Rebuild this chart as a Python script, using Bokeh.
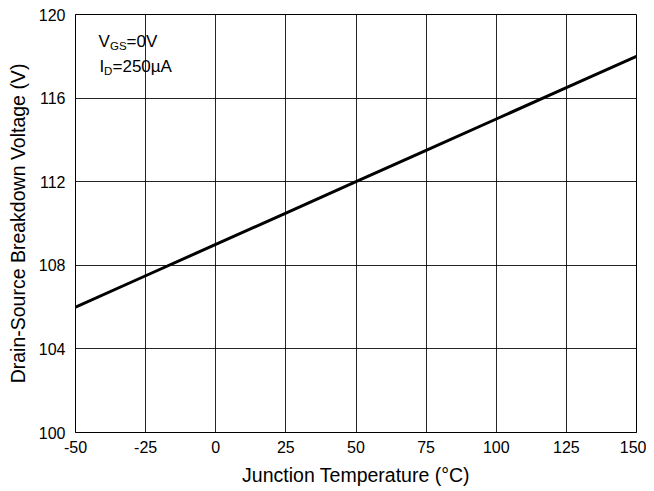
from bokeh.plotting import figure
from bokeh.models import Range1d, FixedTicker, Label
from bokeh.embed import file_html
from bokeh.resources import INLINE

# Data
temperature_c = [-50, -25, 0, 25, 50, 75, 100, 125, 150]
bvdss_v = [106.0, 107.5, 109.0, 110.5, 112.0, 113.5, 115.0, 116.5, 118.0]
x_ticks = [-50, -25, 0, 25, 50, 75, 100, 125, 150]
y_ticks = [100, 104, 108, 112, 116, 120]
x_tick_labels = ["-50", "-25", "0", "25", "50", "75", "100", "125", "150"]

FONT = "Liberation Sans"
W, H = 646, 491

p = figure(width=W, height=H, output_backend="svg", toolbar_location=None,
           x_range=Range1d(-50, 150), y_range=Range1d(100, 120),
           min_border_left=75, min_border_right=10, min_border_top=14, min_border_bottom=59)
p.background_fill_color = "white"
p.border_fill_color = "white"
p.outline_line_color = "black"
p.outline_line_width = 1
p.outline_line_alpha = 1

p.line(temperature_c, bvdss_v, line_color="black", line_width=3)

for ax in (p.xaxis[0], p.yaxis[0]):
    ax.major_tick_in = 0
    ax.major_tick_out = 0
    ax.minor_tick_in = 0
    ax.minor_tick_out = 0
    ax.axis_line_color = "black"
    ax.major_label_text_font = FONT
    ax.major_label_text_font_size = "16px"
    ax.major_label_text_color = "black"
    ax.axis_label_text_font = FONT
    ax.axis_label_text_font_size = "19.5px"
    ax.axis_label_text_font_style = "normal"
    ax.axis_label_text_color = "black"

p.xaxis.ticker = FixedTicker(ticks=x_ticks)
p.yaxis.ticker = FixedTicker(ticks=y_ticks)
p.xaxis.major_label_overrides = {t: s for t, s in zip(x_ticks, x_tick_labels)}
p.xaxis.axis_label = "Junction Temperature (°C)"
p.yaxis.axis_label = "Drain-Source Breakdown Voltage (V)"
p.xaxis.major_label_standoff = 8
p.yaxis.major_label_standoff = 10
p.xaxis.axis_label_standoff = 8
p.yaxis.axis_label_standoff = 7

p.xgrid.grid_line_color = "black"
p.ygrid.grid_line_color = "black"
p.xgrid.grid_line_alpha = 0.85
p.ygrid.grid_line_alpha = 0.85

def lab(dx, dy, t, size):
    # anchored at the top-left corner of the plot frame, offsets in pixels
    p.add_layout(Label(x=-50, y=120, x_offset=dx, y_offset=-dy, text=t,
                       text_font=FONT, text_font_size=size, text_color="black",
                       text_baseline="alphabetic", text_align="left"))

lab(23, 27, "V", "17px")
lab(34.5, 31, "GS", "11.5px")
lab(51, 27, "=0V", "17px")
lab(24, 52, "I", "17px")
lab(28.5, 56, "D", "11.5px")
lab(37, 52, "=250µA", "17px")

open("out.html", "w").write(file_html(p, INLINE))
